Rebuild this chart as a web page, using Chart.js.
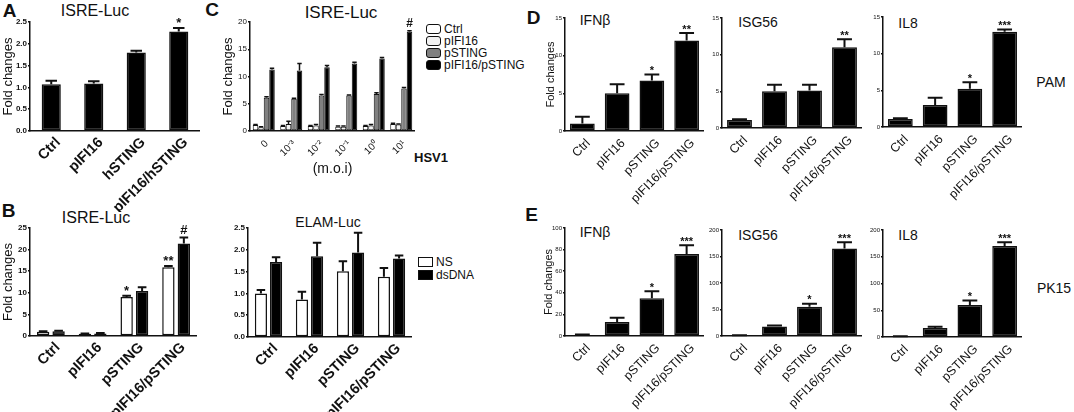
<!DOCTYPE html>
<html>
<head>
<meta charset="utf-8">
<script src="https://cdn.jsdelivr.net/npm/chart.js@4"></script>
<style>
body { margin: 0; background: #fff; }
#stage { position: relative; width: 1074px; height: 412px; overflow: hidden; font-family: "Liberation Sans", Arial, sans-serif; color: #111; }
#stage canvas { position: absolute; }
.t { position: absolute; white-space: nowrap; line-height: 1; transform: translate(-50%, -50%); }
.lg { position: absolute; font-size: 12px; line-height: 1; white-space: nowrap; }
.lg span { display: inline-block; width: 13px; height: 8px; border: 1.5px solid #111; border-radius: 3px; margin-right: 3px; vertical-align: -1px; }
</style>
</head>
<body>
<div id="stage">
  <div class="t" style="left:9.5px;top:10px;font-size:19px;font-weight:bold">A</div>
  <div class="t" style="left:212px;top:9px;font-size:19px;font-weight:bold">C</div>
  <div class="t" style="left:8.5px;top:210px;font-size:19px;font-weight:bold">B</div>
  <div class="t" style="left:533.5px;top:16.5px;font-size:19px;font-weight:bold">D</div>
  <div class="t" style="left:531.5px;top:213.5px;font-size:19px;font-weight:bold">E</div>

  <div class="t" style="left:95px;top:11px;font-size:16px">ISRE-Luc</div>
  <div class="t" style="left:341px;top:12px;font-size:17px">ISRE-Luc</div>
  <div class="t" style="left:96px;top:218px;font-size:16px">ISRE-Luc</div>
  <div class="t" style="left:328px;top:222px;font-size:14px">ELAM-Luc</div>
  <div class="t" style="left:595px;top:20px;font-size:14px">IFNβ</div>
  <div class="t" style="left:758px;top:22px;font-size:14px">ISG56</div>
  <div class="t" style="left:908px;top:23px;font-size:14px">IL8</div>
  <div class="t" style="left:595px;top:232px;font-size:14px">IFNβ</div>
  <div class="t" style="left:758px;top:235px;font-size:14px">ISG56</div>
  <div class="t" style="left:908px;top:235px;font-size:14px">IL8</div>

  <div class="t" style="left:1051px;top:82px;font-size:14px">PAM</div>
  <div class="t" style="left:1054px;top:288px;font-size:14px">PK15</div>
  <div class="t" style="left:431px;top:157px;font-size:13px;font-weight:bold">HSV1</div>

  <div class="lg" style="left:426px;top:23px">
    <div><span style="background:#fff"></span>Ctrl</div>
    <div><span style="background:#f2f2f2"></span>pIFI16</div>
    <div><span style="background:#808080"></span>pSTING</div>
    <div><span style="background:#000"></span>pIFI16/pSTING</div>
  </div>
  <div class="lg" style="left:418px;top:256px">
    <div><span style="background:#fff;border-radius:0"></span>NS</div>
    <div style="margin-top:1px"><span style="background:#000;border-radius:0"></span>dsDNA</div>
  </div>
</div>
<script>
// ---- data ----
// A: ISRE-Luc, human STING
const catsA = ["Ctrl", "pIFI16", "hSTING", "pIFI16/hSTING"];
const valsA = [1.07, 1.09, 1.80, 2.28];
const errA = [0.08, 0.05, 0.04, 0.08];
const sigA = ["", "", "", "*"];

// C: ISRE-Luc vs HSV1 m.o.i
const mois = ["0", "10⁻³", "10⁻²", "10⁻¹", "10⁰", "10¹"];
const cCtrl = [1.1, 0.9, 0.9, 0.8, 0.9, 1.3];
const cCtrlErr = [0.1, 0.1, 0.1, 0.1, 0.1, 0.1];
const cPifi = [0.7, 1.3, 1.0, 0.8, 1.0, 1.2];
const cPifiErr = [0.1, 0.5, 0.2, 0.1, 0.2, 0.1];
const cPsting = [6.1, 5.9, 6.5, 6.5, 6.8, 7.8];
const cPstingErr = [0.2, 0.1, 0.2, 0.1, 0.2, 0.2];
const cCombo = [11.3, 11.1, 11.7, 12.4, 13.3, 18.2];
const cComboErr = [0.2, 1.3, 0.3, 0.2, 0.2, 0.2];
const sigCombo = ["", "", "", "", "", "#"];

// B: NS vs dsDNA
const catsP = ["Ctrl", "pIFI16", "pSTING", "pIFI16/pSTING"];
const isreNs = [1.0, 0.5, 9.0, 15.9];
const isreNsErr = [0.1, 0.1, 0.3, 0.3];
const isreNsSig = ["", "", "*", "**"];
const isreDs = [1.1, 0.6, 10.4, 21.4];
const isreDsErr = [0.1, 0.1, 0.9, 1.4];
const isreDsSig = ["", "", "", "#"];
const elamNs = [1.0, 0.86, 1.51, 1.38];
const elamNsErr = [0.08, 0.18, 0.23, 0.2];
const elamDs = [1.72, 1.85, 1.94, 1.8];
const elamDsErr = [0.11, 0.31, 0.45, 0.07];

// D: PAM cells
const pamIfnb = [1.0, 5.0, 6.7, 12.0];
const pamIfnbErr = [0.9, 1.2, 0.8, 1.0];
const pamIfnbSig = ["", "", "*", "**"];
const pamIsg = [1.1, 5.0, 5.1, 11.0];
const pamIsgErr = [0.1, 0.9, 0.8, 1.1];
const pamIsgSig = ["", "", "", "**"];
const pamIl8 = [1.1, 3.0, 5.2, 13.0];
const pamIl8Err = [0.1, 1.0, 0.9, 0.3];
const pamIl8Sig = ["", "", "*", "***"];

// E: PK15 cells
const pkIfnb = [1, 13, 35, 76];
const pkIfnbErr = [0.5, 4, 6.5, 8];
const pkIfnbSig = ["", "", "*", "***"];
const pkIsg = [1, 18, 55, 165];
const pkIsgErr = [0.5, 2, 6, 12];
const pkIsgSig = ["", "", "*", "***"];
const pkIl8 = [1, 17, 60, 170];
const pkIl8Err = [0.5, 2, 8, 7];
const pkIl8Sig = ["", "", "*", "***"];

// ---- error bars + significance marks, drawn from the y scale ----
const errorBars = {
  id: 'errorBars',
  afterDatasetsDraw(chart, args, opts) {
    const ctx = chart.ctx;
    const ys = chart.scales.y;
    chart.data.datasets.forEach(function(ds, i) {
      const meta = chart.getDatasetMeta(i);
      meta.data.forEach(function(bar, j) {
        const e = ds.errors ? ds.errors[j] : 0;
        const top = ys.getPixelForValue(ds.data[j] + (e || 0));
        ctx.save();
        ctx.strokeStyle = '#111';
        ctx.lineWidth = opts.lineWidth || 2;
        if (e) {
          const half = bar.width * (opts.cap || 0.3);
          ctx.beginPath();
          ctx.moveTo(bar.x, bar.y);
          ctx.lineTo(bar.x, top);
          ctx.moveTo(bar.x - half, top);
          ctx.lineTo(bar.x + half, top);
          ctx.stroke();
        }
        if (ds.marks && ds.marks[j]) {
          ctx.fillStyle = '#111';
          ctx.font = opts.font || 'bold 12px "Liberation Sans", Arial';
          ctx.textAlign = 'center';
          ctx.textBaseline = 'bottom';
          const m = ds.marks[j];
          const off = m === '#' ? 1 : -2;
          ctx.fillText(m, bar.x, top - off);
        }
        ctx.restore();
      });
    });
  }
};

const stage = document.getElementById('stage');

function bars(label, data, errors, marks, fill, bw) {
  return {
    label: label, data: data, errors: errors, marks: marks,
    backgroundColor: fill, borderColor: '#111', borderWidth: bw === undefined ? 1.5 : bw,
    borderSkipped: false
  };
}

// box: x,y,w,h canvas rect; pt = gap above the plot; yw = y axis width; xh = x axis height
function panel(box, labels, datasets, y, look) {
  const cv = document.createElement('canvas');
  cv.width = box.w;
  cv.height = box.h;
  cv.style.left = box.x + 'px';
  cv.style.top = box.y + 'px';
  cv.style.width = box.w + 'px';
  cv.style.height = box.h + 'px';
  stage.appendChild(cv);
  return new Chart(cv, {
    type: 'bar',
    data: { labels: labels, datasets: datasets },
    plugins: [errorBars],
    options: {
      responsive: false,
      animation: false,
      devicePixelRatio: 1,
      layout: { padding: { top: box.pt, left: 0, right: 0, bottom: 0 } },
      datasets: { bar: { categoryPercentage: look.cp, barPercentage: look.bp } },
      plugins: {
        legend: { display: false },
        tooltip: { enabled: false },
        errorBars: { cap: look.cap, lineWidth: look.elw, font: look.star }
      },
      scales: {
        x: {
          offset: true,
          grid: { display: false },
          border: { color: '#111', width: 1.5 },
          ticks: {
            autoSkip: false, minRotation: 45, maxRotation: 45,
            padding: look.xpad, labelOffset: look.xoff,
            color: '#111', font: look.xfont
          },
          title: {
            display: !!look.xtitle, text: look.xtitle || '', color: '#111',
            padding: 0, font: { size: 14, family: '"Liberation Sans", Arial' }
          },
          afterFit: function(s) { s.height = box.xh; }
        },
        y: {
          min: 0, max: y.max,
          ticks: {
            stepSize: y.step, padding: 1, color: '#111', font: look.yfont,
            callback: function(v) { return y.dec ? v.toFixed(y.dec) : v; }
          },
          grid: { drawOnChartArea: false, tickLength: 2, color: '#111', lineWidth: 1.5 },
          border: { color: '#111', width: 1.5 },
          title: {
            display: !!y.title, text: 'Fold changes', color: '#111',
            padding: 0, font: { size: y.tsize, family: '"Liberation Sans", Arial' }
          },
          afterFit: function(s) { s.width = box.yw; }
        }
      }
    }
  });
}

const fam = '"Liberation Sans", Arial';
const bigLook = {
  cp: 0.9, bp: 0.5, cap: 0.3, elw: 2, xpad: -5, xoff: 7,
  xfont: { size: 14.5, weight: 'bold', family: fam },
  yfont: { size: 8, weight: 'bold', family: fam },
  star: 'bold 13px ' + fam
};
const pairLook = Object.assign({}, bigLook, { cp: 0.74, bp: 0.8, cap: 0.35 });
const cLook = {
  cp: 0.8, bp: 1.0, cap: 0.4, elw: 1.5, xpad: -1, xoff: 3,
  xfont: { size: 10, family: fam },
  yfont: { size: 8, family: fam },
  star: 'bold 12px ' + fam, xtitle: '(m.o.i)'
};
const smallLook = {
  cp: 0.9, bp: 0.79, cap: 0.3, elw: 2, xpad: -3, xoff: 6,
  xfont: { size: 12.5, family: fam },
  yfont: { size: 6, family: fam },
  star: 'bold 11px ' + fam
};

// A
panel({ x: 1, y: 0, w: 199, h: 212, pt: 22, yw: 29, xh: 81 }, catsA,
  [bars('A', valsA, errA, sigA, '#000')],
  { max: 2.5, step: 0.5, dec: 1, title: true, tsize: 13 }, bigLook);

// C
panel({ x: 221, y: 0, w: 194, h: 178, pt: 22, yw: 29, xh: 47 }, mois,
  [bars('Ctrl', cCtrl, cCtrlErr, null, '#fff', 1),
   bars('pIFI16', cPifi, cPifiErr, null, '#f2f2f2', 1),
   bars('pSTING', cPsting, cPstingErr, null, '#808080', 1),
   bars('pIFI16/pSTING', cCombo, cComboErr, sigCombo, '#000', 1)],
  { max: 20, step: 5, title: true, tsize: 13 }, cLook);

// B ISRE
panel({ x: 1, y: 200, w: 196, h: 212, pt: 28, yw: 29, xh: 76 }, catsP,
  [bars('NS', isreNs, isreNsErr, isreNsSig, '#fff'),
   bars('dsDNA', isreDs, isreDsErr, isreDsSig, '#000')],
  { max: 25, step: 5, title: true, tsize: 13 }, pairLook);

// B ELAM
panel({ x: 225, y: 200, w: 187, h: 212, pt: 28, yw: 23, xh: 75 }, catsP,
  [bars('NS', elamNs, elamNsErr, null, '#fff'),
   bars('dsDNA', elamDs, elamDsErr, null, '#000')],
  { max: 2.5, step: 0.5, dec: 1 }, pairLook);

// D (PAM)
panel({ x: 544, y: 0, w: 160, h: 212, pt: 18, yw: 21, xh: 81 }, catsP,
  [bars('IFNb', pamIfnb, pamIfnbErr, pamIfnbSig, '#000')],
  { max: 15, step: 5, title: true, tsize: 11 }, smallLook);
panel({ x: 705, y: 0, w: 157, h: 212, pt: 18, yw: 17, xh: 84 }, catsP,
  [bars('ISG56', pamIsg, pamIsgErr, pamIsgSig, '#000')],
  { max: 15, step: 5 }, smallLook);
panel({ x: 866, y: 0, w: 156, h: 212, pt: 17, yw: 17, xh: 85 }, catsP,
  [bars('IL8', pamIl8, pamIl8Err, pamIl8Sig, '#000')],
  { max: 15, step: 5 }, smallLook);

// E (PK15)
panel({ x: 542, y: 200, w: 162, h: 212, pt: 28, yw: 23, xh: 76 }, catsP,
  [bars('IFNb', pkIfnb, pkIfnbErr, pkIfnbSig, '#000')],
  { max: 100, step: 20, title: true, tsize: 11 }, smallLook);
panel({ x: 705, y: 200, w: 157, h: 212, pt: 30, yw: 17, xh: 76 }, catsP,
  [bars('ISG56', pkIsg, pkIsgErr, pkIsgSig, '#000')],
  { max: 200, step: 50 }, smallLook);
panel({ x: 864, y: 200, w: 158, h: 212, pt: 30, yw: 19, xh: 75 }, catsP,
  [bars('IL8', pkIl8, pkIl8Err, pkIl8Sig, '#000')],
  { max: 200, step: 50 }, smallLook);
</script>
</body>
</html>
